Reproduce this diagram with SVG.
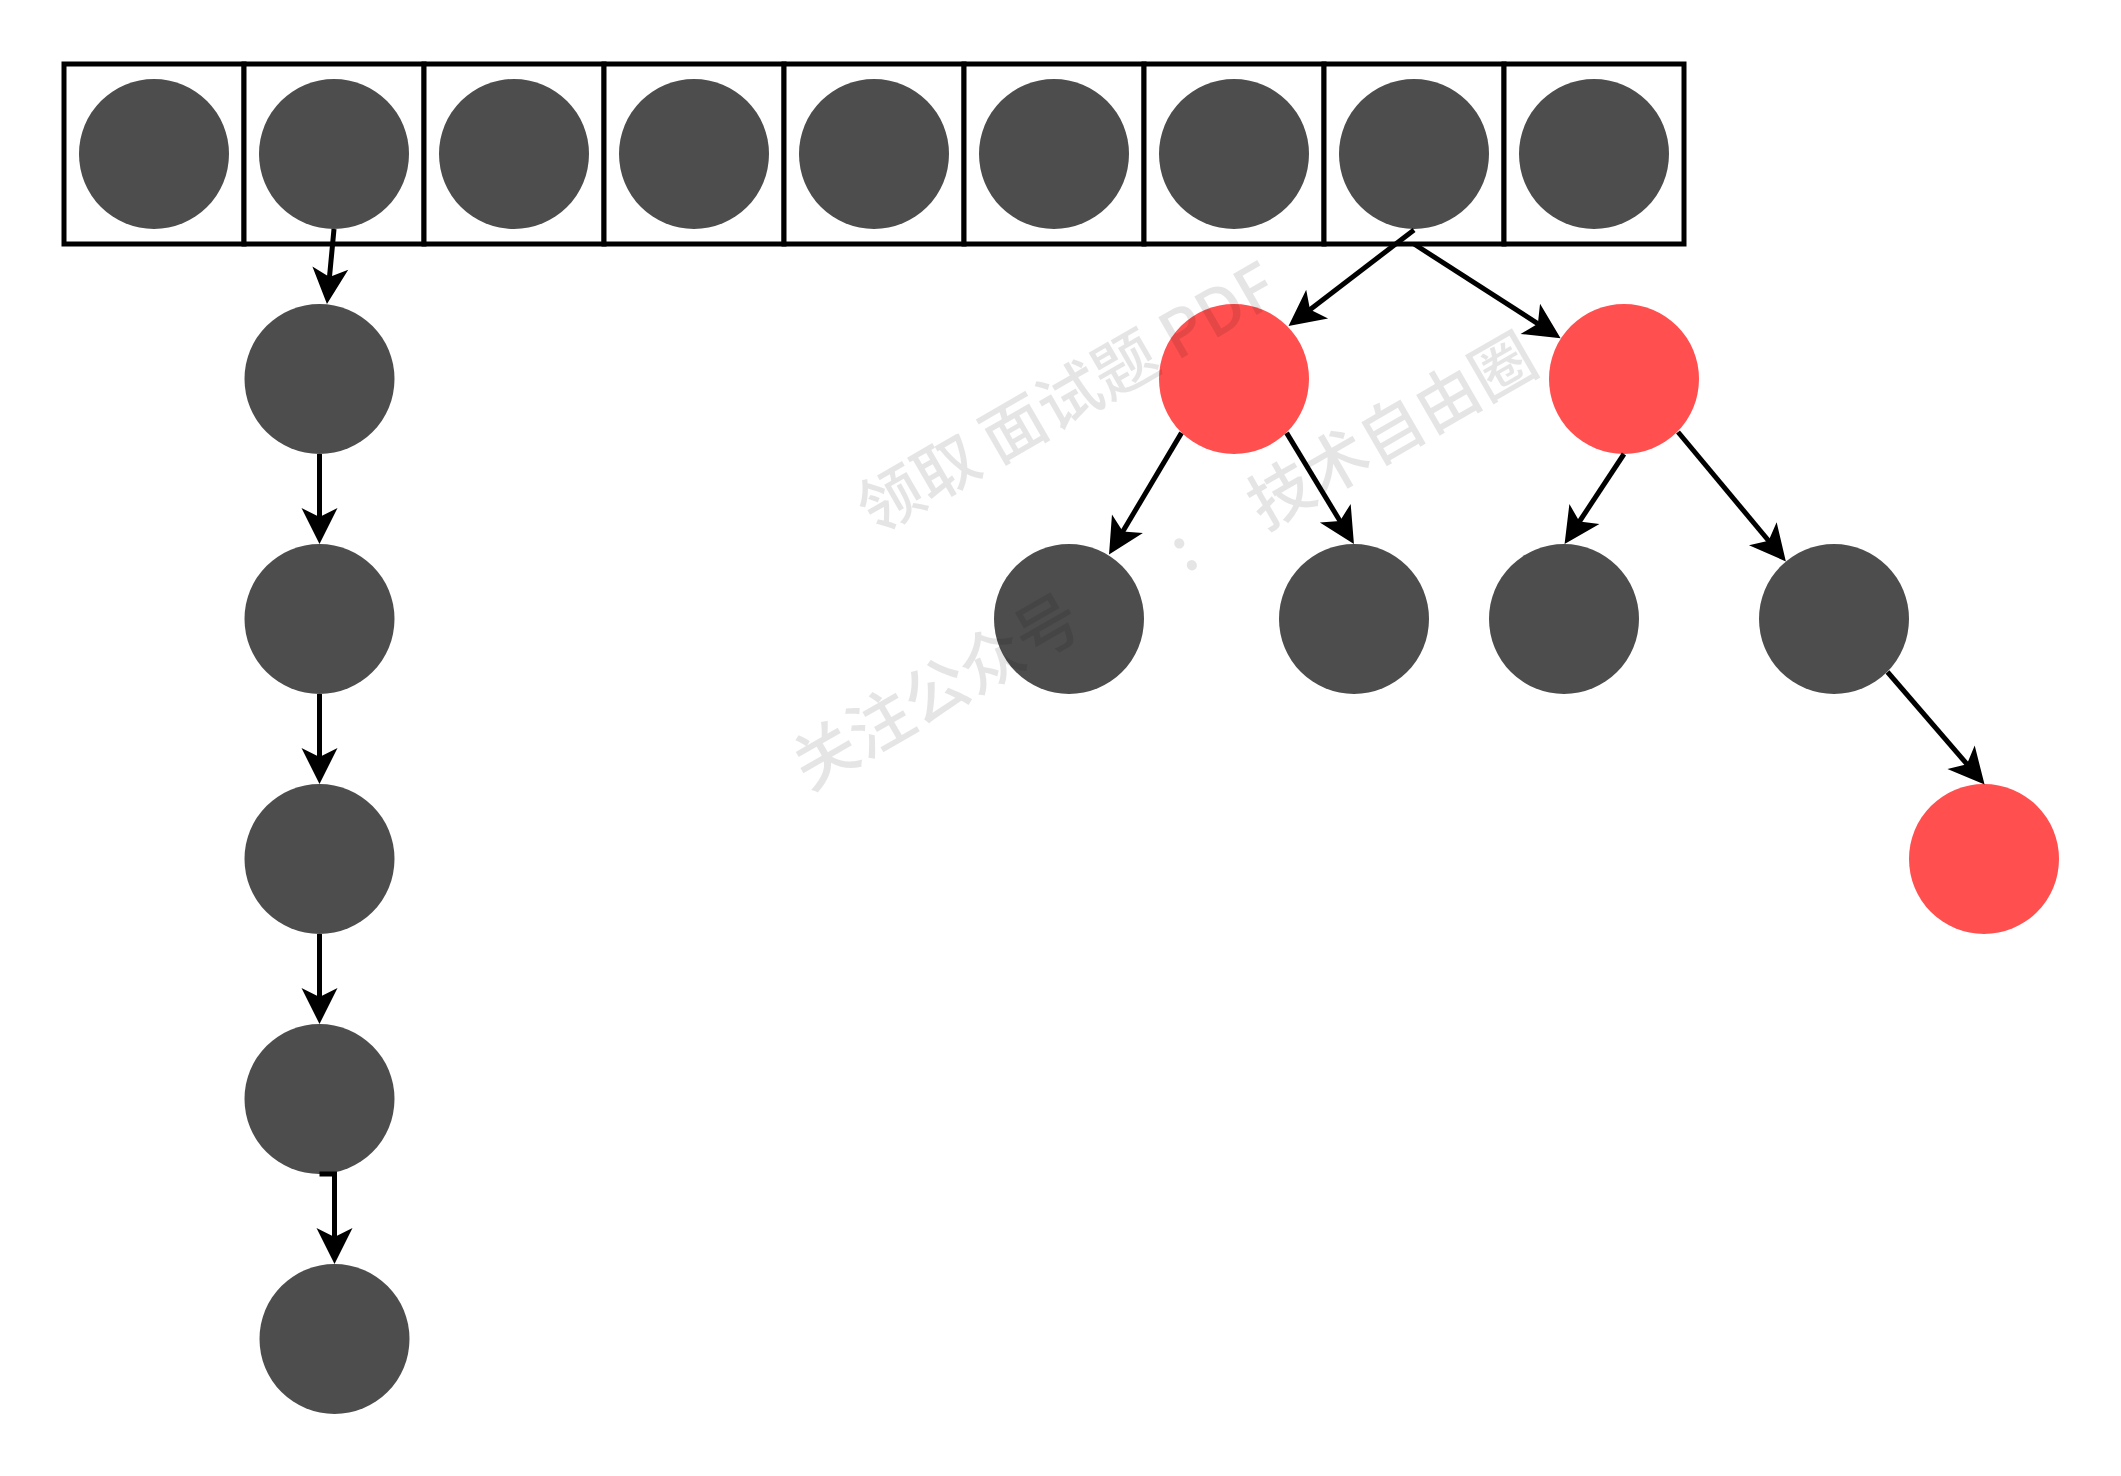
<svg xmlns="http://www.w3.org/2000/svg" width="2121" height="1476" viewBox="0 0 2121 1476">
<style>
.cell{fill:#fff;stroke:#000;stroke-width:5}
.g{fill:#4D4D4D}
.r{fill:#FF4F4F}
.e{fill:none;stroke:#000;stroke-width:5;marker-end:url(#arr)}
.wm{font-family:"Noto Sans CJK SC","Noto Sans",sans-serif;font-size:64px;font-weight:500;fill:#000;fill-opacity:0.1}
</style>
<defs>
<marker id="arr" markerUnits="userSpaceOnUse" viewBox="-10 -19 38 38" markerWidth="38" markerHeight="38" refX="3" refY="0" orient="auto" overflow="visible">
<path d="M27,0 L-9,-18 L0,0 L-9,18 Z" fill="#000"/>
</marker>
</defs>
<rect width="2121" height="1476" fill="#fff"/>
<g id="array">
<g id="cell0"><rect class="cell" x="64" y="64" width="180" height="180"/><circle class="g" cx="154" cy="154" r="75"/></g>
<g id="cell1"><rect class="cell" x="244" y="64" width="180" height="180"/><circle class="g" cx="334" cy="154" r="75"/></g>
<g id="cell2"><rect class="cell" x="424" y="64" width="180" height="180"/><circle class="g" cx="514" cy="154" r="75"/></g>
<g id="cell3"><rect class="cell" x="604" y="64" width="180" height="180"/><circle class="g" cx="694" cy="154" r="75"/></g>
<g id="cell4"><rect class="cell" x="784" y="64" width="180" height="180"/><circle class="g" cx="874" cy="154" r="75"/></g>
<g id="cell5"><rect class="cell" x="964" y="64" width="180" height="180"/><circle class="g" cx="1054" cy="154" r="75"/></g>
<g id="cell6"><rect class="cell" x="1144" y="64" width="180" height="180"/><circle class="g" cx="1234" cy="154" r="75"/></g>
<g id="cell7"><rect class="cell" x="1324" y="64" width="180" height="180"/><circle class="g" cx="1414" cy="154" r="75"/></g>
<g id="cell8"><rect class="cell" x="1504" y="64" width="180" height="180"/><circle class="g" cx="1594" cy="154" r="75"/></g>
</g>
<g id="list1"><circle class="g" cx="319.5" cy="379" r="75"/></g>
<g id="list2"><circle class="g" cx="319.5" cy="619" r="75"/></g>
<g id="list3"><circle class="g" cx="319.5" cy="859" r="75"/></g>
<g id="list4"><circle class="g" cx="319.5" cy="1099" r="75"/></g>
<g id="list5"><circle class="g" cx="334.5" cy="1339" r="75"/></g>
<g id="treeL"><circle class="r" cx="1234" cy="379" r="75"/></g>
<g id="treeR"><circle class="r" cx="1624" cy="379" r="75"/></g>
<g id="treeLL"><circle class="g" cx="1069" cy="619" r="75"/></g>
<g id="treeLR"><circle class="g" cx="1354" cy="619" r="75"/></g>
<g id="treeRL"><circle class="g" cx="1564" cy="619" r="75"/></g>
<g id="treeRR"><circle class="g" cx="1834" cy="619" r="75"/></g>
<g id="treeRRR"><circle class="r" cx="1984" cy="859" r="75"/></g>
<g id="connectors">
<path class="e" d="M334,229 L329.2,280.1"/>
<path class="e" d="M319.5,454 V520"/>
<path class="e" d="M319.5,694 V760"/>
<path class="e" d="M319.5,934 V1000"/>
<path class="e" d="M319.5,1174 H334.5 V1240"/>
<path class="e" d="M1414,230 L1307.6,311.4"/>
<path class="e" d="M1414,244 L1540.4,325.3"/>
<path class="e" d="M1181.5,432.9 L1121.3,534"/>
<path class="e" d="M1286.6,432.9 L1341.5,523.5"/>
<path class="e" d="M1624,454 L1577.8,524"/>
<path class="e" d="M1678,432 L1770.5,543"/>
<path class="e" d="M1887.5,672 L1968.9,766.4"/>
</g>
<g id="watermark">
<g transform="translate(891.4,488.9) rotate(-30)"><text class="wm" x="-38" y="32">领取 面试题 PDF</text></g>
<g transform="translate(822.9,761.4) rotate(-30)"><text class="wm"><tspan x="-27" y="19">关注公众号</tspan><tspan x="408" y="19">:</tspan><tspan x="498" y="21">技术自由圈</tspan></text></g>
</g>
</svg>
